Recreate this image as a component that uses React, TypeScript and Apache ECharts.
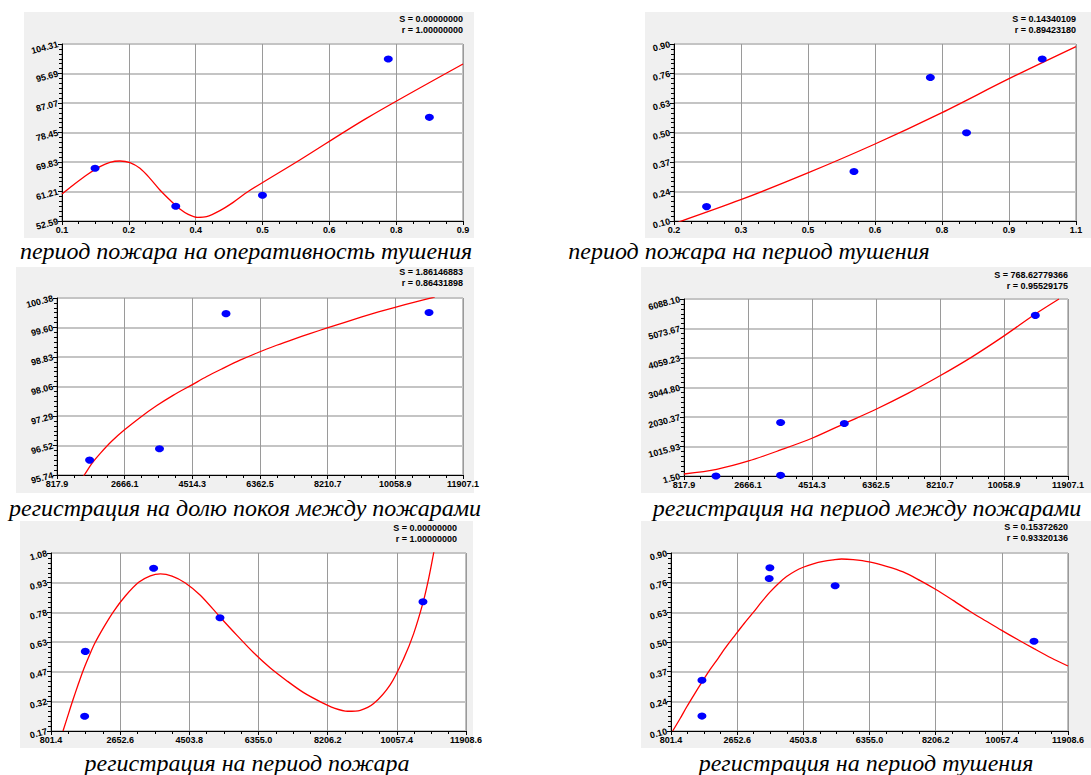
import React, { useEffect, useRef } from "react";
import * as echarts from "echarts";

// ---------- data ----------
const captions = [
  "период пожара на оперативность тушения",
  "период пожара на период тушения",
  "регистрация на долю покоя между пожарами",
  "регистрация на период между пожарами",
  "регистрация на период пожара",
  "регистрация на период тушения",
];
const sValues = ["S = 0.00000000", "S = 0.14340109", "S = 1.86146883", "S = 768.62779366", "S = 0.00000000", "S = 0.15372620"];
const rValues = ["r = 1.00000000", "r = 0.89423180", "r = 0.86431898", "r = 0.95529175", "r = 1.00000000", "r = 0.93320136"];

const xRanges = [[0.1, 0.9], [0.2, 1.1], [817.9, 11907.1], [817.9, 11907.1], [801.4, 11908.6], [801.4, 11908.6]];
const yRanges = [[52.59, 104.31], [0.1, 0.9], [95.74, 100.38], [1.5, 6088.1], [0.17, 1.08], [0.1, 0.9]];

const xLabels1 = ["0.1", "0.2", "0.4", "0.5", "0.6", "0.8", "0.9"];
const xLabels2 = ["0.2", "0.3", "0.5", "0.6", "0.8", "0.9", "1.1"];
const xLabels34 = ["817.9", "2666.1", "4514.3", "6362.5", "8210.7", "10058.9", "11907.1"];
const xLabels56 = ["801.4", "2652.6", "4503.8", "6355.0", "8206.2", "10057.4", "11908.6"];
const yLabels1 = ["52.59", "61.21", "69.83", "78.45", "87.07", "95.69", "104.31"];
const yLabels2 = ["0.10", "0.24", "0.37", "0.50", "0.63", "0.76", "0.90"];
const yLabels3 = ["95.74", "96.52", "97.29", "98.06", "98.83", "99.60", "100.38"];
const yLabels4 = ["1.50", "1015.93", "2030.37", "3044.80", "4059.23", "5073.67", "6088.10"];
const yLabels5 = ["0.17", "0.32", "0.47", "0.63", "0.78", "0.93", "1.08"];
const yLabels6 = ["0.10", "0.24", "0.37", "0.50", "0.63", "0.76", "0.90"];
const xLabelSets = [xLabels1, xLabels2, xLabels34, xLabels34, xLabels56, xLabels56];
const yLabelSets = [yLabels1, yLabels2, yLabels3, yLabels4, yLabels5, yLabels6];

const points1 = [[0.166, 67.98], [0.327, 56.88], [0.5, 60.09], [0.751, 99.93], [0.833, 82.88]];
const points2 = [[0.273, 0.165], [0.603, 0.324], [0.774, 0.749], [0.855, 0.499], [1.0245, 0.832]];
const points3 = [[1709, 96.13], [3618, 96.43], [5435, 99.97], [10980, 100.0]];
const points4 = [[1742, 1.5], [3609, 1839], [3609, 24.5], [5448, 1805], [10964, 5525]];
const points5 = [[1720, 0.577], [1703, 0.245], [3549, 1.0016], [5325, 0.749], [10758, 0.831]];
const points6 = [[1668, 0.328], [1668, 0.167], [3569, 0.834], [3550, 0.785], [5395, 0.753], [10958, 0.503]];

const curve1 = [
  [0.1, 60.48], [0.1226, 63.11], [0.1492, 66.03], [0.1757, 68.47], [0.1957, 69.73], [0.2156, 70.12],
  [0.2355, 69.64], [0.2555, 67.98], [0.2754, 65.06], [0.2953, 61.65], [0.3153, 58.73], [0.3352, 56.1],
  [0.3518, 54.54], [0.3704, 53.66], [0.3884, 53.86], [0.415, 55.61], [0.4415, 58.04], [0.4714, 61.21],
  [0.5744, 70.42], [0.7073, 82.59], [0.9, 98.47],
];
const curve2 = [
  [0.21, 0.095], [0.348, 0.195], [0.497, 0.315], [0.65, 0.448], [0.8, 0.59], [0.949, 0.742], [1.1, 0.888],
];
const curve3 = [
  [1454, 95.609], [1563, 95.74], [1772, 96.045], [2000, 96.307], [2318, 96.63], [2654, 96.917],
  [3090, 97.249], [3545, 97.56], [3999, 97.835], [4490, 98.095], [4908, 98.322], [5363, 98.54],
  [5817, 98.749], [6326, 98.958], [6817, 99.141], [7271, 99.298], [7726, 99.447], [8199, 99.595],
  [8680, 99.743], [9144, 99.883], [9598, 100.014], [10053, 100.136], [10589, 100.275], [11135, 100.406],
];
const curve4 = [
  [818, 70.5], [1761, 231], [2685, 518], [3609, 897], [4514, 1299], [5448, 1805], [6363, 2298],
  [7296, 2850], [8211, 3447], [9125, 4090], [10040, 4802], [10964, 5571], [11647, 6088],
];
const curve5 = [
  [1123, 0.17], [1256, 0.25], [1390, 0.33], [1524, 0.405], [1658, 0.477], [1810, 0.548], [1970, 0.617],
  [2211, 0.7], [2479, 0.782], [2791, 0.86], [3148, 0.93], [3460, 0.963], [3728, 0.973], [4040, 0.962],
  [4397, 0.927], [4798, 0.864], [5324, 0.753], [5779, 0.659], [6226, 0.57], [6672, 0.492], [7118, 0.426],
  [7564, 0.366], [8054, 0.315], [8367, 0.288], [8741, 0.271], [9080, 0.276], [9437, 0.31], [9883, 0.407],
  [10240, 0.54], [10508, 0.668], [10758, 0.826], [10909, 0.949], [11043, 1.08], [11132, 1.17],
];
const curve6 = [
  [848, 0.1], [1053, 0.155], [1239, 0.208], [1454, 0.265], [1668, 0.32], [1892, 0.376], [2125, 0.428],
  [2358, 0.481], [2591, 0.53], [2842, 0.582], [3103, 0.633], [3336, 0.68], [3569, 0.724], [3802, 0.762],
  [4035, 0.794], [4268, 0.818], [4501, 0.836], [4780, 0.851], [5060, 0.862], [5339, 0.869], [5572, 0.873],
  [5898, 0.87], [6346, 0.86], [6830, 0.84], [7296, 0.815], [7762, 0.777], [8200, 0.737], [8694, 0.687],
  [9160, 0.638], [9626, 0.593], [10054, 0.552], [10511, 0.51], [10958, 0.47], [11443, 0.428], [11908, 0.392],
];
const pointSets = [points1, points2, points3, points4, points5, points6];
const curveSets = [curve1, curve2, curve3, curve4, curve5, curve6];

// ---------- layout ----------
const grids = [
  { left: 62, top: 44, width: 401, height: 177 },
  { left: 674, top: 44, width: 402, height: 177 },
  { left: 57, top: 298, width: 406, height: 177 },
  { left: 684, top: 299, width: 384, height: 177 },
  { left: 51, top: 553, width: 415, height: 178 },
  { left: 671, top: 553, width: 397, height: 178 },
];
const panels = [
  { x: 24, y: 12, w: 450, h: 226 },
  { x: 645, y: 12, w: 446, h: 226 },
  { x: 16, y: 267, w: 458, h: 226 },
  { x: 641, y: 267, w: 450, h: 226 },
  { x: 20, y: 521, w: 453, h: 227 },
  { x: 641, y: 521, w: 450, h: 227 },
];
const statPos = [
  { x: 463, y: 19 }, { x: 1076, y: 19 }, { x: 463, y: 272 },
  { x: 1068, y: 275 }, { x: 457, y: 528 }, { x: 1068, y: 527 },
];
const captionPos = [
  { x: 246, y: 251 }, { x: 749, y: 251 }, { x: 245, y: 508 },
  { x: 867, y: 508 }, { x: 247, y: 763 }, { x: 866, y: 763 },
];

const labelFont = "Liberation Sans, Arial, sans-serif";
const captionFont = "italic 24px Liberation Serif, Liberation Sans, sans-serif";
const statFont = "bold 9px Liberation Sans, Arial, sans-serif";

export default function App() {
  const ref = useRef<HTMLDivElement>(null);
  useEffect(() => {
    if (!ref.current) return;
    const chart = echarts.init(ref.current, undefined, { renderer: "svg" });
    const xAxis: any[] = [];
    const yAxis: any[] = [];
    const series: any[] = [];
    const graphic: any[] = [];
    for (let i = 0; i < 6; i++) {
      const [x0, x1] = xRanges[i];
      const [y0, y1] = yRanges[i];
      const xi = (x1 - x0) / 6;
      const yi = (y1 - y0) / 6;
      const xl = xLabelSets[i];
      const yl = yLabelSets[i];
      xAxis.push({
        type: "value", gridIndex: i, min: x0, max: x1, interval: xi,
        axisLine: { show: true, onZero: false, lineStyle: { color: "#000", width: 1 } },
        axisTick: { show: true, length: 4, lineStyle: { color: "#000" } },
        minorTick: { show: true, splitNumber: 4, length: 3, lineStyle: { color: "#000" } },
        splitLine: { show: true, lineStyle: { color: "#9a9a9a", width: 1 } },
        axisLabel: {
          color: "#000", fontWeight: "bold", fontSize: 9, fontFamily: labelFont, margin: 4,
          formatter: (v: number) => xl[Math.round((v - x0) / xi)] ?? "",
        },
      });
      yAxis.push({
        type: "value", gridIndex: i, min: y0, max: y1, interval: yi,
        axisLine: { show: true, onZero: false, lineStyle: { color: "#000", width: 1 } },
        axisTick: { show: true, length: 4, lineStyle: { color: "#000" } },
        minorTick: { show: true, splitNumber: 6, length: 3, lineStyle: { color: "#000" } },
        splitLine: { show: true, lineStyle: { color: "#c4c4c4", width: 2 } },
        axisLabel: {
          color: "#000", fontWeight: "bold", fontSize: 9, fontFamily: labelFont, margin: 4, rotate: 15,
          formatter: (v: number) => yl[Math.round((v - y0) / yi)] ?? "",
        },
      });
      series.push({
        type: "line", xAxisIndex: i, yAxisIndex: i, data: curveSets[i], smooth: 0.3,
        showSymbol: false, symbol: "none", lineStyle: { color: "#ff0000", width: 1.3 }, z: 3,
      });
      series.push({
        type: "scatter", xAxisIndex: i, yAxisIndex: i, data: pointSets[i],
        symbol: "circle", symbolSize: [9, 7], itemStyle: { color: "#0000ff", opacity: 1 }, z: 4,
      });
      const p = panels[i];
      graphic.push({
        type: "rect", shape: { x: p.x, y: p.y, width: p.w, height: p.h },
        style: { fill: "#f0f0f0" }, z: -100, silent: true,
      });
      const s = statPos[i];
      graphic.push({
        type: "text", x: s.x, y: s.y, z: 10,
        style: { legacy: false, text: sValues[i], font: statFont, fill: "#000", align: "right", verticalAlign: "middle" },
      });
      graphic.push({
        type: "text", x: s.x, y: s.y + 11, z: 10,
        style: { legacy: false, text: rValues[i], font: statFont, fill: "#000", align: "right", verticalAlign: "middle" },
      });
      const c = captionPos[i];
      graphic.push({
        type: "text", x: c.x, y: c.y, z: 10,
        style: { legacy: false, text: captions[i], font: captionFont, fill: "#000", align: "center", verticalAlign: "middle" },
      });
    }
    chart.setOption({
      animation: false,
      backgroundColor: "#ffffff",
      grid: grids.map((g) => ({ ...g, show: true, backgroundColor: "#ffffff", borderColor: "#808080", borderWidth: 1, containLabel: false })),
      xAxis,
      yAxis,
      series,
      graphic: { elements: graphic },
    });
    return () => chart.dispose();
  }, []);
  return <div ref={ref} style={{ position: "absolute", left: 0, top: 0, width: 1091, height: 775 }} />;
}
